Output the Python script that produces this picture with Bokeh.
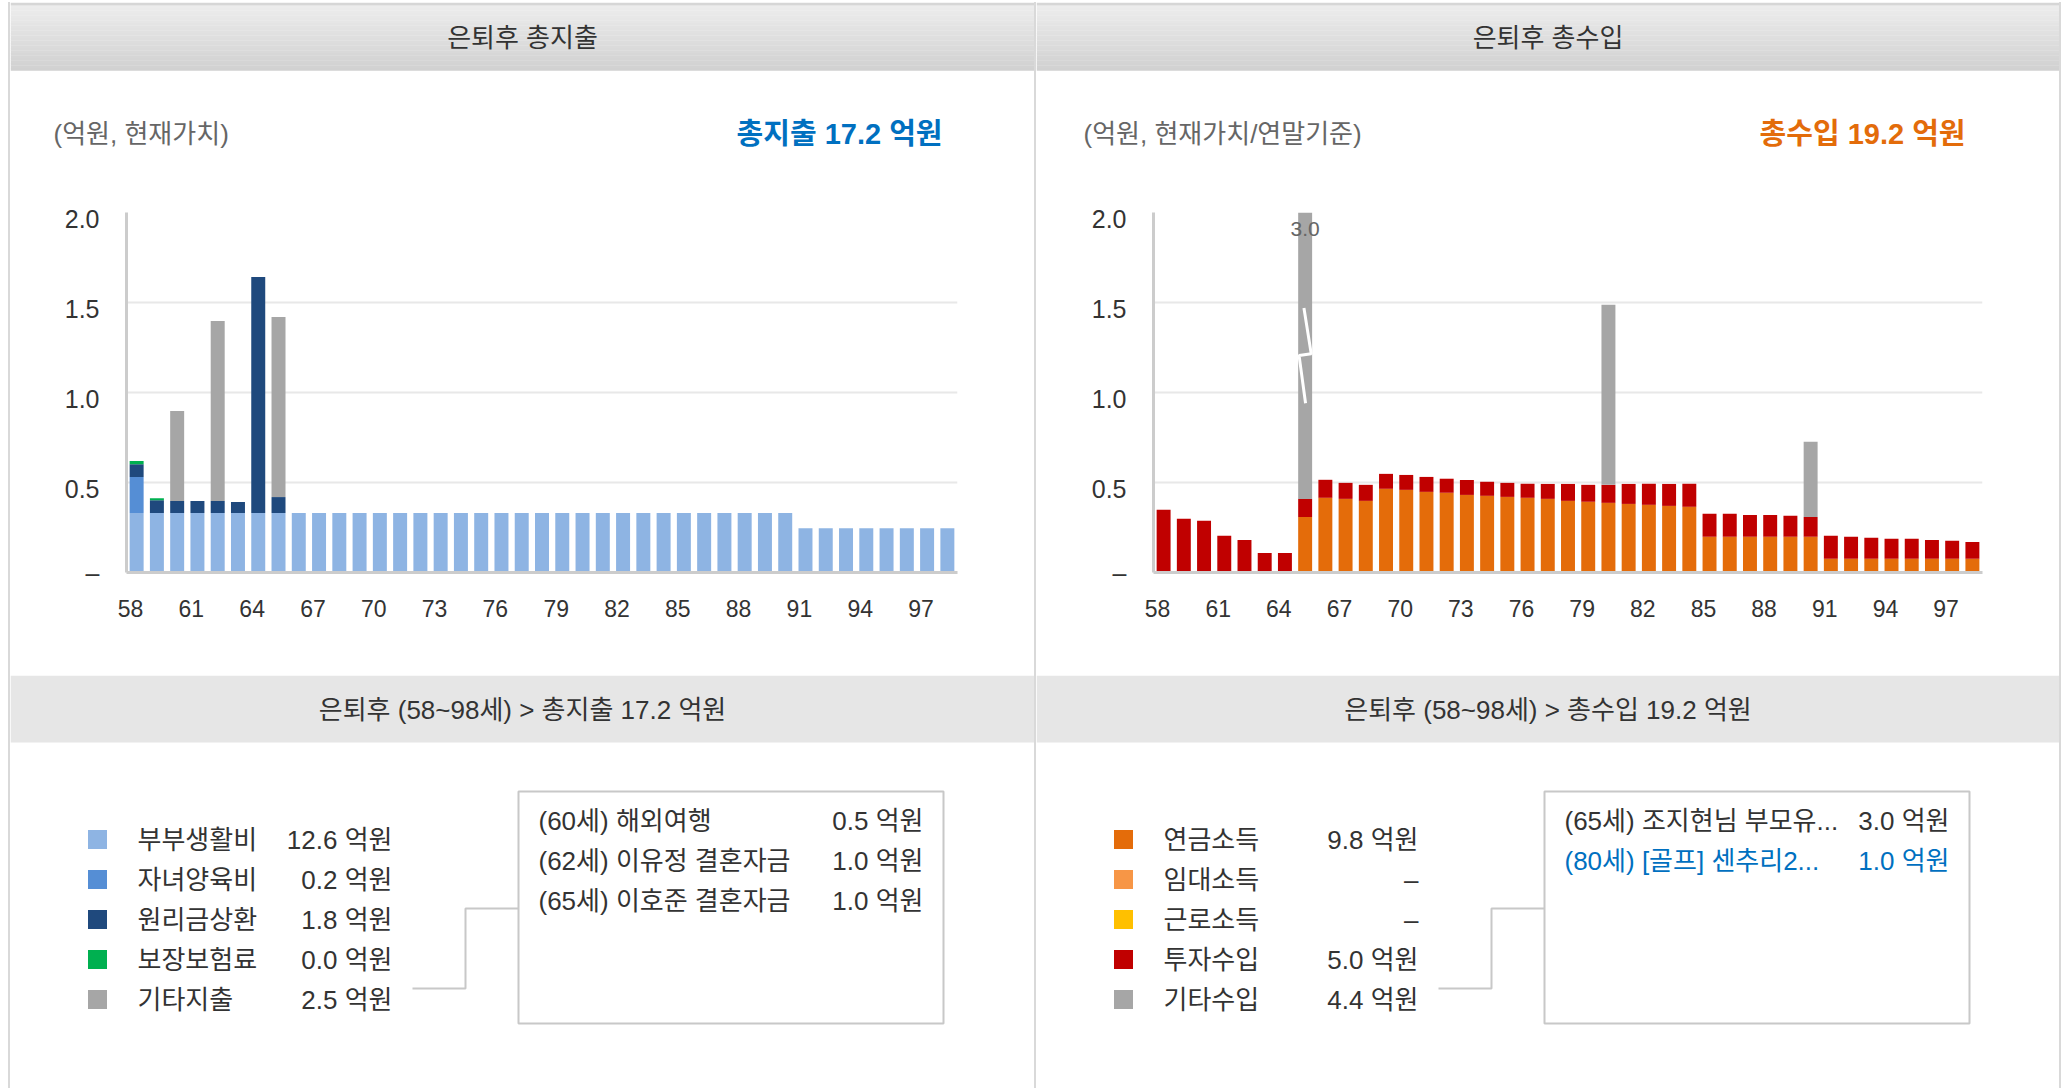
from bokeh.plotting import figure
from bokeh.layouts import row, column
from bokeh.models import Range1d, FixedTicker, Spacer, ColumnDataSource
from bokeh.core.properties import value
from bokeh.embed import file_html
from bokeh.resources import INLINE

# ---------------- data ----------------
ages = list(range(58, 99))
xtick_ages = [58, 61, 64, 67, 70, 73, 76, 79, 82, 85, 88, 91, 94, 97]
ytick_vals = [0, 0.5, 1, 1.5, 2]
ytick_labels = ["–", "0.5", "1.0", "1.5", "2.0"]

# 은퇴후 총지출 (억원)  ages 58..98
exp_couple = [0.33, 0.33, 0.33, 0.33, 0.33, 0.33, 0.33, 0.33, 0.33, 0.33,
              0.33, 0.33, 0.33, 0.33, 0.33, 0.33, 0.33, 0.33, 0.33, 0.33,
              0.33, 0.33, 0.33, 0.33, 0.33, 0.33, 0.33, 0.33, 0.33, 0.33,
              0.33, 0.33, 0.33, 0.246, 0.246, 0.246, 0.246, 0.246, 0.246, 0.246,
              0.246]
exp_child = [0.20, 0, 0, 0, 0, 0, 0, 0, 0, 0,
             0, 0, 0, 0, 0, 0, 0, 0, 0, 0,
             0, 0, 0, 0, 0, 0, 0, 0, 0, 0,
             0, 0, 0, 0, 0, 0, 0, 0, 0, 0,
             0]
exp_loan = [0.072, 0.072, 0.067, 0.067, 0.067, 0.061, 1.311, 0.089, 0, 0,
            0, 0, 0, 0, 0, 0, 0, 0, 0, 0,
            0, 0, 0, 0, 0, 0, 0, 0, 0, 0,
            0, 0, 0, 0, 0, 0, 0, 0, 0, 0,
            0]
exp_insurance = [0.017, 0.011, 0, 0, 0, 0, 0, 0, 0, 0,
                 0, 0, 0, 0, 0, 0, 0, 0, 0, 0,
                 0, 0, 0, 0, 0, 0, 0, 0, 0, 0,
                 0, 0, 0, 0, 0, 0, 0, 0, 0, 0,
                 0]
exp_other = [0, 0, 0.5, 0, 1.0, 0, 0, 1.0, 0, 0,
             0, 0, 0, 0, 0, 0, 0, 0, 0, 0,
             0, 0, 0, 0, 0, 0, 0, 0, 0, 0,
             0, 0, 0, 0, 0, 0, 0, 0, 0, 0,
             0]

# 은퇴후 총수입 (억원)
inc_pension = [0, 0, 0, 0, 0, 0, 0, 0.309, 0.415, 0.409,
               0.398, 0.465, 0.459, 0.448, 0.443, 0.431, 0.426, 0.420, 0.415, 0.409,
               0.398, 0.393, 0.387, 0.381, 0.376, 0.370, 0.365, 0.198, 0.198, 0.198,
               0.198, 0.198, 0.198, 0.076, 0.076, 0.076, 0.076, 0.076, 0.076, 0.076,
               0.076]
inc_rent = [0, 0, 0, 0, 0, 0, 0, 0, 0, 0,
            0, 0, 0, 0, 0, 0, 0, 0, 0, 0,
            0, 0, 0, 0, 0, 0, 0, 0, 0, 0,
            0, 0, 0, 0, 0, 0, 0, 0, 0, 0,
            0]
inc_labor = [0, 0, 0, 0, 0, 0, 0, 0, 0, 0,
             0, 0, 0, 0, 0, 0, 0, 0, 0, 0,
             0, 0, 0, 0, 0, 0, 0, 0, 0, 0,
             0, 0, 0, 0, 0, 0, 0, 0, 0, 0,
             0]
inc_invest = [0.348, 0.298, 0.287, 0.204, 0.181, 0.109, 0.109, 0.100, 0.100, 0.089,
              0.089, 0.083, 0.083, 0.083, 0.078, 0.083, 0.078, 0.078, 0.078, 0.083,
              0.094, 0.094, 0.100, 0.111, 0.117, 0.122, 0.128, 0.128, 0.128, 0.122,
              0.122, 0.117, 0.111, 0.128, 0.122, 0.117, 0.111, 0.111, 0.105, 0.100,
              0.094]
inc_other = [0, 0, 0, 0, 0, 0, 0, 3.0, 0, 0,
             0, 0, 0, 0, 0, 0, 0, 0, 0, 0,
             0, 0, 1.0, 0, 0, 0, 0, 0, 0, 0,
             0, 0, 0.417, 0, 0, 0, 0, 0, 0, 0,
             0]

exp_names = ["부부생활비", "자녀양육비", "원리금상환", "보장보험료", "기타지출"]
exp_colors = ["#8eb4e3", "#558ed5", "#1f497d", "#00b050", "#a6a6a6"]
exp_totals = [12.6, 0.2, 1.8, 0.0, 2.5]
inc_names = ["연금소득", "임대소득", "근로소득", "투자수입", "기타수입"]
inc_colors = ["#e46c0a", "#f79646", "#ffc000", "#c00000", "#a6a6a6"]
inc_totals = [9.8, None, None, 5.0, 4.4]

exp_events = ["(60세) 해외여행", "(62세) 이유정 결혼자금", "(65세) 이호준 결혼자금"]
exp_event_amounts = [0.5, 1.0, 1.0]
exp_event_colors = ["#333333", "#333333", "#333333"]
inc_events = ["(65세) 조지현님 부모유...", "(80세) [골프] 센추리2..."]
inc_event_amounts = [3.0, 1.0]
inc_event_colors = ["#333333", "#0070c0"]

TOTAL_EXP = 17.2
TOTAL_INC = 19.2

# ---------------- style ----------------
FONT = "'Liberation Sans', 'Noto Sans CJK KR', sans-serif"
TXT = "#333333"
H_HEAD, H_CHART, H_LEG = 173, 500, 413
H_TOTAL = H_HEAD + H_CHART + H_LEG
W_L, W_R = 1024, 1023
Y_MAX = 2.0
FS = "26px"
X_LABEL_SHIFT = 0.3     # tick labels sit slightly left of the bar centres
Y_LABEL_SHIFT = 0.038   # tick labels sit slightly below their grid lines


def blank(width, height, yflip=False):
    yr = Range1d(height, 0) if yflip else Range1d(0, height)
    p = figure(width=width, height=height, x_range=Range1d(0, width), y_range=yr,
               toolbar_location=None, tools="", output_backend="svg",
               min_border=0, x_axis_type=None, y_axis_type=None,
               outline_line_color=None, frame_align=False)
    p.grid.visible = False
    return p


def header_fig(width, title, unit_text, unit_x, total_text, total_x, total_color):
    p = blank(width, H_HEAD)
    n = 26
    h = 65.0 / n
    tops, bots, cols = [], [], []
    for i in range(n):
        t = i / (n - 1)
        c = int(round(236 - (236 - 209) * t))
        tops.append(170 - i * h)
        bots.append(170 - (i + 1) * h - 0.3)
        cols.append("#%02x%02x%02x" % (c, c, c))
    p.quad(left=0, right=width, top=tops, bottom=bots, fill_color=cols, line_color=None)
    p.quad(left=0, right=width, top=173, bottom=170, fill_color="#d6d6d6", line_color=None)
    p.text(x=[width / 2], y=[138], text=[title], text_align="center", text_baseline="middle",
           text_font=value(FONT), text_font_size=value(FS), text_color=TXT)
    p.text(x=[unit_x], y=[42], text=[unit_text], text_align="left", text_baseline="middle",
           text_font=value(FONT), text_font_size=value(FS), text_color="#666666")
    p.text(x=[total_x], y=[42], text=[total_text], text_align="right", text_baseline="middle",
           text_font=value(FONT), text_font_size=value("29px"), text_font_style="bold",
           text_color=total_color)
    return p


def chart_fig(width, mbl, mbr, stackers, colors, data):
    src = ColumnDataSource(dict(age=ages, **data))
    p = figure(width=width, height=H_CHART,
               x_range=Range1d(ages[0] - 0.5, ages[-1] + 0.5), y_range=Range1d(0, Y_MAX),
               min_border_left=mbl, min_border_right=mbr, min_border_top=37, min_border_bottom=103,
               toolbar_location=None, tools="", output_backend="svg", outline_line_color=None,
               frame_align=False)
    p.vbar_stack(stackers, x="age", width=0.69, fill_color=colors, line_color=None, source=src)
    p.xgrid.visible = False
    p.ygrid.ticker = FixedTicker(ticks=ytick_vals)
    p.ygrid.grid_line_color = "#e8e8e8"
    p.ygrid.grid_line_width = 2
    for ax in (p.xaxis[0], p.yaxis[0]):
        ax.axis_line_color = "#cccccc"
        ax.axis_line_width = 3
        ax.major_tick_line_color = None
        ax.minor_tick_line_color = None
        ax.major_tick_out = 0
        ax.major_tick_in = 0
        ax.minor_tick_out = 0
        ax.major_label_text_font = FONT
        ax.major_label_text_color = TXT
    xpos = [a - X_LABEL_SHIFT for a in xtick_ages]
    p.xaxis.ticker = FixedTicker(ticks=xpos)
    p.xaxis.major_label_overrides = {xp: str(a) for xp, a in zip(xpos, xtick_ages)}
    p.xaxis.major_label_standoff = 27
    p.xaxis.major_label_text_font_size = "23px"
    ypos = [v - Y_LABEL_SHIFT if v > 0 else v for v in ytick_vals]
    p.yaxis.ticker = FixedTicker(ticks=ypos)
    p.yaxis.major_label_overrides = dict(zip(ypos, ytick_labels))
    p.yaxis.major_label_standoff = 27
    p.yaxis.major_label_text_font_size = "25px"
    return p


def legend_fig(width, subheader, names, colors, totals, events, amounts, ev_colors):
    p = blank(width, H_LEG, yflip=True)
    p.quad(left=0, right=width, top=0, bottom=67, fill_color="#e6e6e6", line_color=None)
    p.text(x=[width / 2], y=[34], text=[subheader], text_align="center", text_baseline="middle",
           text_font=value(FONT), text_font_size=value(FS), text_color=TXT)
    ys = [164 + 40 * i for i in range(len(names))]
    p.rect(x=[87] * len(names), y=ys, width=19, height=19, fill_color=colors, line_color=None)
    p.text(x=[127] * len(names), y=ys, text=names, text_baseline="middle",
           text_font=value(FONT), text_font_size=value(FS), text_color=TXT)
    vals = [("%.1f 억원" % v) if v is not None else "–" for v in totals]
    p.text(x=[382] * len(names), y=ys, text=vals, text_baseline="middle", text_align="right",
           text_font=value(FONT), text_font_size=value(FS), text_color=TXT)
    p.line(x=[402, 455, 455, 508], y=[313, 313, 233, 233], line_color="#c8c8c8", line_width=2)
    p.quad(left=508, right=933, top=116, bottom=348, fill_color="white",
           line_color="#c8c8c8", line_width=2)
    ey = [145 + 40 * i for i in range(len(events))]
    p.text(x=[528] * len(events), y=ey, text=events, text_baseline="middle",
           text_font=value(FONT), text_font_size=value(FS), text_color=ev_colors)
    p.text(x=[913] * len(events), y=ey, text=["%.1f 억원" % a for a in amounts],
           text_baseline="middle", text_align="right",
           text_font=value(FONT), text_font_size=value(FS), text_color=ev_colors)
    return p


# ---------------- left panel ----------------
exp_data = dict(couple=exp_couple, child=exp_child, loan=exp_loan,
                insurance=exp_insurance, other=exp_other)
left_col = column(
    header_fig(W_L, "은퇴후 총지출", "(억원, 현재가치)", 43,
               "총지출 %.1f 억원" % TOTAL_EXP, 932, "#0070c0"),
    chart_fig(W_L, 116, 77, list(exp_data.keys()), exp_colors, exp_data),
    legend_fig(W_L, "은퇴후 (%d~%d세) > 총지출 %.1f 억원" % (ages[0], ages[-1], TOTAL_EXP),
               exp_names, exp_colors, exp_totals, exp_events, exp_event_amounts, exp_event_colors),
)

# ---------------- right panel ----------------
inc_data = dict(pension=inc_pension, rent=inc_rent, labor=inc_labor,
                invest=inc_invest, other=inc_other)
right_chart = chart_fig(W_R, 117, 77, list(inc_data.keys()), inc_colors, inc_data)

# clipped bar: break mark and value label
stack_tops = [a + b + c + d + e for a, b, c, d, e in
              zip(inc_pension, inc_rent, inc_labor, inc_invest, inc_other)]
for age, top in zip(ages, stack_tops):
    if top > Y_MAX:
        right_chart.line(x=[age - 0.06, age + 0.30, age - 0.30, age + 0.02],
                         y=[1.47, 1.215, 1.205, 0.94], line_color="white", line_width=3)
        right_chart.text(x=[age], y=[Y_MAX - 0.055], text=["%.1f" % inc_other[ages.index(age)]],
                         text_align="center", text_baseline="top",
                         text_font=value(FONT), text_font_size=value("21px"),
                         text_color="#666666")

right_col = column(
    header_fig(W_R, "은퇴후 총수입", "(억원, 현재가치/연말기준)", 47,
               "총수입 %.1f 억원" % TOTAL_INC, 929, "#e36c0a"),
    right_chart,
    legend_fig(W_R, "은퇴후 (%d~%d세) > 총수입 %.1f 억원" % (ages[0], ages[-1], TOTAL_INC),
               inc_names, inc_colors, inc_totals, inc_events, inc_event_amounts, inc_event_colors),
)


def border():
    return Spacer(width=2, height=H_TOTAL, styles={"background-color": "#d9d9d9"})


root = row(border(), left_col, border(), right_col, border(),
           styles={"margin-left": "8px", "margin-top": "2px"})

open("out.html", "w").write(file_html(root, INLINE, title="은퇴후 총지출 / 총수입"))
